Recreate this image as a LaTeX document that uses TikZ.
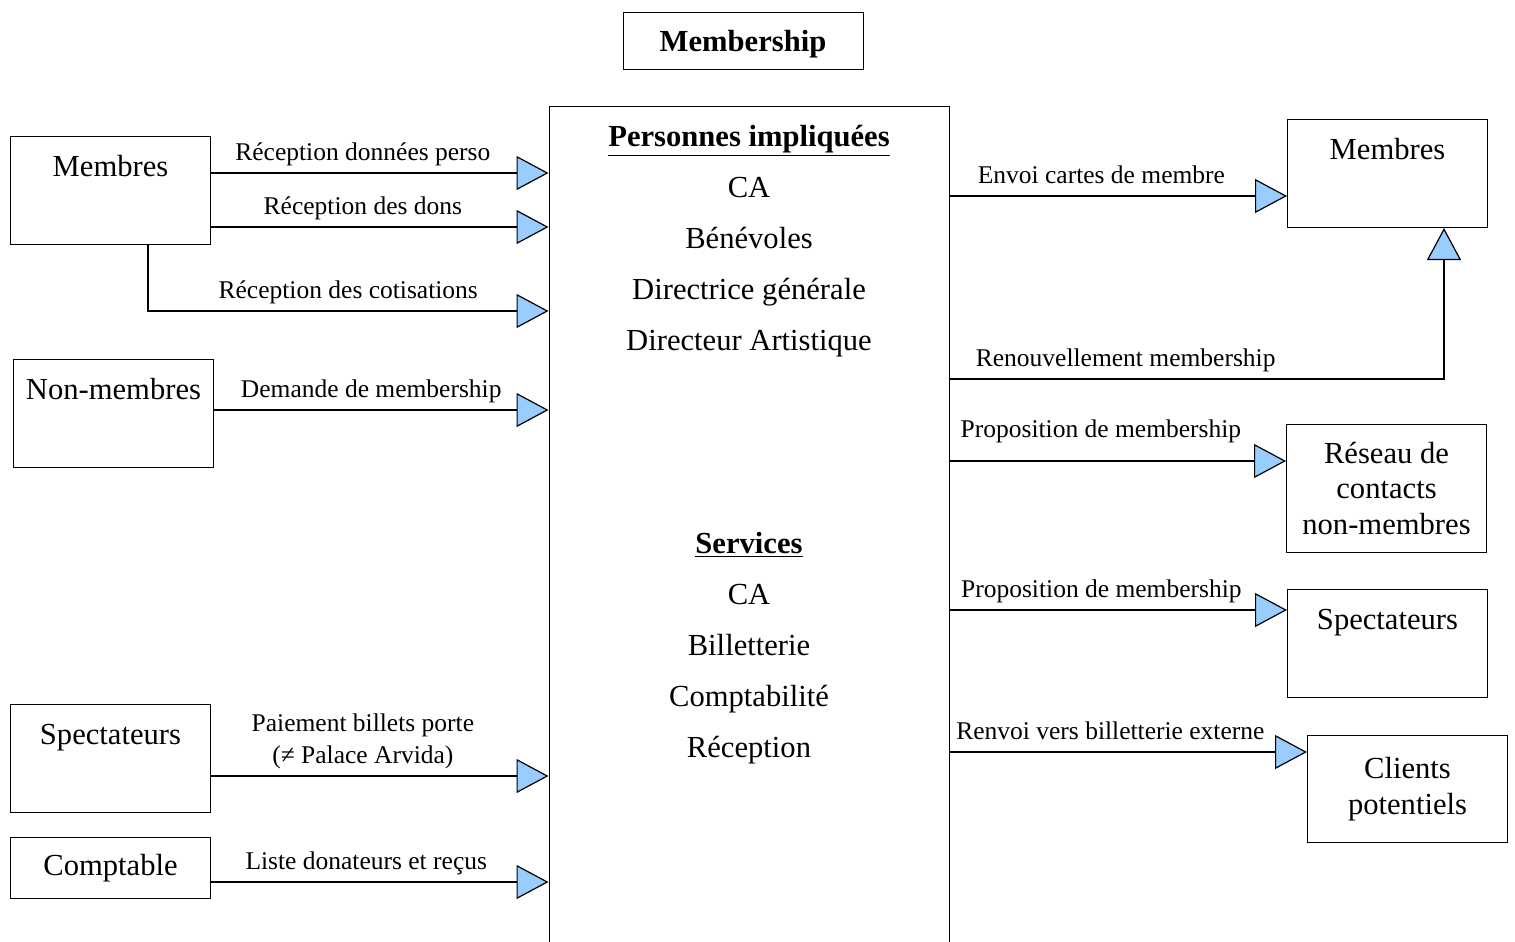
\documentclass[tikz,border=0pt]{standalone}
\usepackage{fontspec}
\setmainfont{Liberation Serif}
\usepackage{xcolor}
\usepackage{tikz}
\usetikzlibrary{arrows.meta}
\definecolor{tipblue}{RGB}{153,204,255}
\newcommand\boxfont{\fontsize{15.3pt}{17.75pt}\selectfont}
\newcommand\lblfont{\fontsize{12.75pt}{16pt}\selectfont}
\tikzset{
  box/.style={draw, line width=0.5pt, inner sep=0pt, align=center, minimum width=100pt, font=\boxfont},
  topbox/.style={box, text height=20pt, text depth=34pt},
  flow/.style={line width=1.4pt, -{Triangle[length=16pt, width=17pt, fill=tipblue, line width=0.6pt]}},
  lbl/.style={font=\lblfont, inner sep=2.5pt, text depth=3pt, align=center}
}

\begin{document}
\begin{tikzpicture}[x=0.5pt, y=-0.5pt]
\useasboundingbox (0,0) rectangle (1515,942);

\node[box, font=\boxfont\bfseries, minimum width=120pt, minimum height=28.5pt, text depth=0pt] (title) at (743,41) {Membership};

% central box, open at the bottom
\node[draw, line width=0.5pt, inner sep=0pt, minimum width=200pt, minimum height=422pt, anchor=north] (ctr) at (749,106) {};

\node[font=\boxfont\bfseries, anchor=base] (pers) at (749,146) {\underline{Personnes impliquées}};
\foreach \t [count=\i] in {CA, Bénévoles, Directrice générale, Directeur Artistique}
  \node[font=\boxfont, anchor=base] (pers\i) at (749,146+51*\i) {\t};

\node[font=\boxfont\bfseries, anchor=base] (serv) at (749,553) {\underline{Services}};
\foreach \t [count=\i] in {CA, Billetterie, Comptabilité, Réception}
  \node[font=\boxfont, anchor=base] (serv\i) at (749,553+51*\i) {\t};

% left side
\node[topbox, anchor=north west] (mL) at (10,136) {Membres};
\node[topbox, anchor=north west] (nmL) at (13,359) {Non-membres};
\node[topbox, anchor=north west] (spL) at (10,704) {Spectateurs};
\node[box, anchor=north west, minimum height=30.5pt] (cpt) at (10,837) {Comptable};

% right side
\node[topbox, anchor=north west] (mR) at (1287,119) {Membres};
\node[box, anchor=north west, minimum height=64pt] (res) at (1286,424) {Réseau de\\contacts\\non-membres};
\node[topbox, anchor=north west] (spR) at (1287,589) {Spectateurs};
\node[box, anchor=north west, minimum height=53.5pt] (cli) at (1307,735) {Clients\\potentiels};

% incoming flows
\draw[flow] (mL.east |- 0,173) -- (ctr.west |- 0,173) node[lbl, pos=0.45, above] (f1) {Réception données perso};
\draw[flow] (mL.east |- 0,227) -- (ctr.west |- 0,227) node[lbl, pos=0.45, above] (f2) {Réception des dons};
\draw[flow] (mL.south -| 148,0) |- (ctr.west |- 0,311) node[lbl, pos=0.75, above] (f3) {Réception des cotisations};
\draw[flow] (nmL.east |- 0,410) -- (ctr.west |- 0,410) node[lbl, pos=0.47, above] (f4) {Demande de membership};
\draw[flow] (spL.east |- 0,776) -- (ctr.west |- 0,776) node[lbl, pos=0.45, above] (f5) {Paiement billets porte\\(≠ Palace Arvida)};
\draw[flow] (cpt.east |- 0,882) -- (ctr.west |- 0,882) node[lbl, pos=0.46, above] (f6) {Liste donateurs et reçus};

% outgoing flows
\draw[flow] (ctr.east |- 0,196) -- (mR.west |- 0,196) node[lbl, pos=0.45, above] (g1) {Envoi cartes de membre};
\draw[flow] (ctr.east |- 0,379) -| (mR.south -| 1444,0) node[lbl, pos=0, anchor=south west, xshift=10pt] (g2) {Renouvellement membership};
\draw[flow] (ctr.east |- 0,461) -- (res.west |- 0,461) node[lbl, pos=0.45, above, yshift=5.5pt] (g3) {Proposition de membership};
\draw[flow] (ctr.east |- 0,610) -- (spR.west |- 0,610) node[lbl, pos=0.45, above] (g4) {Proposition de membership};
\draw[flow] (ctr.east |- 0,752) -- (cli.west |- 0,752) node[lbl, pos=0.45, above] (g5) {Renvoi vers billetterie externe};
\end{tikzpicture}
\end{document}
